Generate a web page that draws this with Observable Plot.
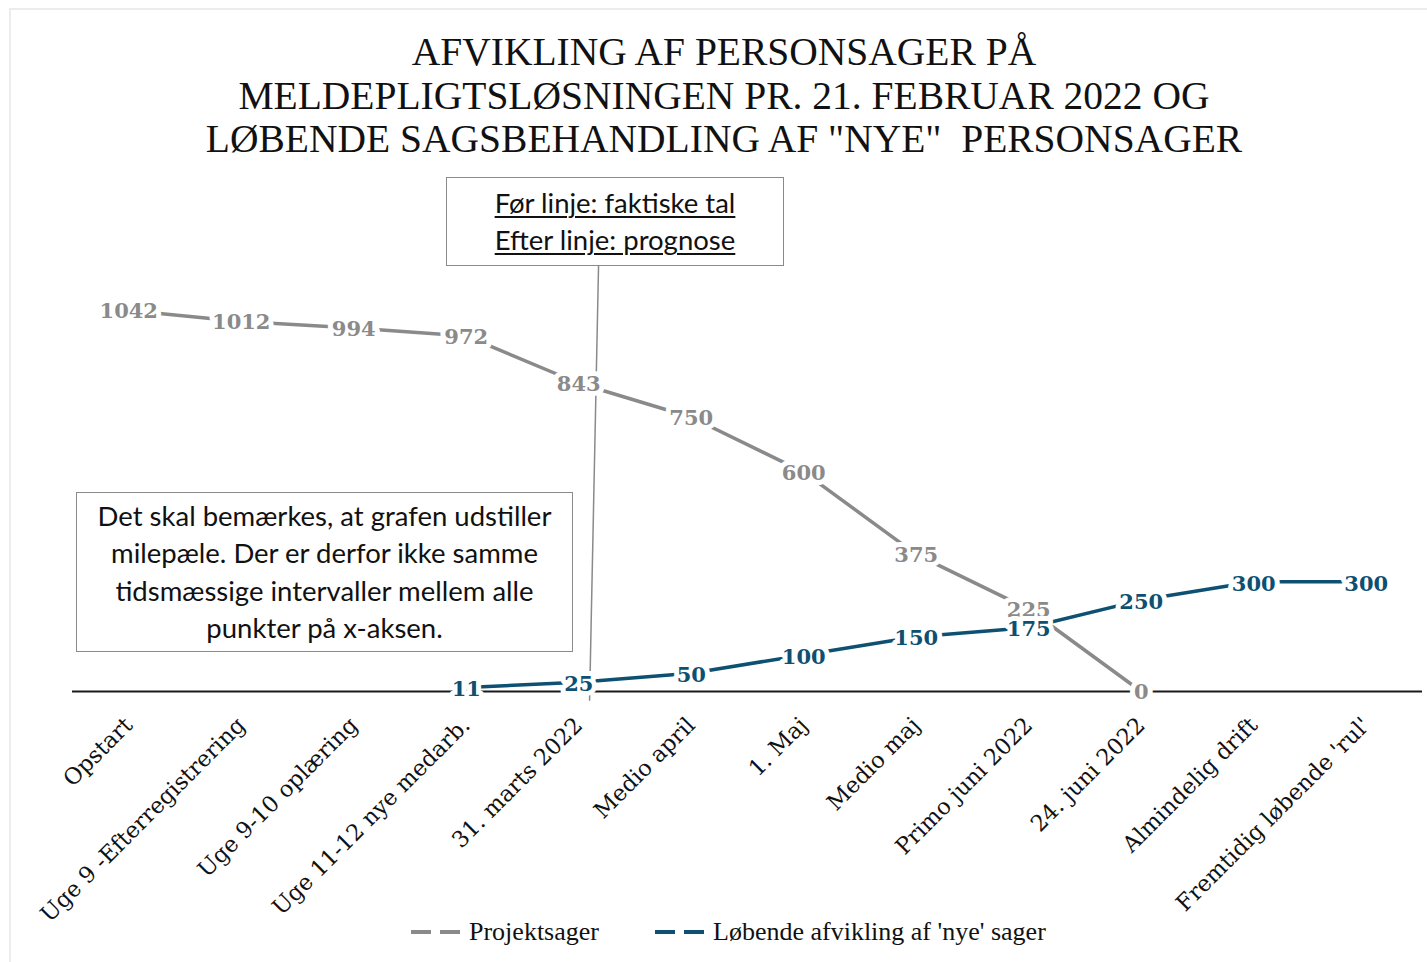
<!DOCTYPE html>
<html>
<head>
<meta charset="utf-8">
<script src="https://cdn.jsdelivr.net/npm/d3@7"></script>
<script src="https://cdn.jsdelivr.net/npm/@observablehq/plot@0.6"></script>
<style>
  html, body { margin: 0; padding: 0; background: #fff; width: 1427px; height: 962px; overflow: hidden; }
  #frame { position: absolute; left: 9px; top: 8px; width: 1440px; height: 980px; border-left: 2px solid #ececec; border-top: 2px solid #ececec; }
  #title { position: absolute; left: 0; top: 31px; width: 1448px; text-align: center; font-family: "Liberation Serif", serif; font-size: 39.5px; line-height: 43.5px; color: #111; }
  #chart { position: absolute; left: 0; top: 160px; }
  .box { position: absolute; border: 1.5px solid #8a8a8a; background: #fff; font-family: Lato, "Open Sans", sans-serif; color: #111; text-align: center; box-sizing: border-box; }
  #box1 { left: 446px; top: 177px; width: 338px; height: 89px; font-size: 27.5px; line-height: 37px; padding-top: 6px; }
  #box1 span { text-decoration: underline; text-underline-offset: 3px; text-decoration-thickness: 1.5px; }
  #box2 { left: 76px; top: 492px; width: 497px; height: 160px; font-size: 27.5px; line-height: 37.3px; padding-top: 4px; }
  #legend { position: absolute; top: 915px; left: 0; width: 1427px; height: 34px; font-family: "Liberation Serif", serif; font-size: 26px; color: #111; }
  .lg { position: absolute; top: 0; display: flex; align-items: center; height: 34px; white-space: nowrap; }
  .sw { display: inline-block; width: 54px; height: 4px; margin-right: 4px; }
</style>
</head>
<body>
<div id="frame"></div>
<div id="title">AFVIKLING AF PERSONSAGER PÅ<br>MELDEPLIGTSLØSNINGEN PR. 21. FEBRUAR 2022 OG<br>LØBENDE SAGSBEHANDLING AF "NYE"&nbsp; PERSONSAGER</div>
<div id="chart"></div>
<div class="box" id="box1"><span>Før linje: faktiske tal</span><br><span>Efter linje: prognose</span></div>
<div class="box" id="box2">Det skal bemærkes, at grafen udstiller<br>milepæle. Der er derfor ikke samme<br>tidsmæssige intervaller mellem alle<br>punkter på x-aksen.</div>
<div id="legend"></div>
<script>
// ---- data ----
const categories = [
  "Opstart",
  "Uge 9 -Efterregistrering",
  "Uge 9-10 oplæring",
  "Uge 11-12 nye medarb.",
  "31. marts 2022",
  "Medio april",
  "1. Maj",
  "Medio maj",
  "Primo juni 2022",
  "24. juni 2022",
  "Almindelig drift",
  "Fremtidig løbende 'rul'"
];
const projektsager = [1042, 1012, 994, 972, 843, 750, 600, 375, 225, 0, null, null];
const loebende = [null, null, null, 11, 25, 50, 100, 150, 175, 250, 300, 300];
const seriesNames = ["Projektsager", "Løbende afvikling af 'nye' sager"];
const seriesColors = ["#8a8a8a", "#0d5071"];
// annotation: divider line between actual and forecast (data coordinates)
const divider = [{x1: 4.176, y1: 1165, x2: 4.096, y2: -25}];

const rows = [];
categories.forEach((c, i) => {
  if (projektsager[i] != null) rows.push({i, value: projektsager[i], series: seriesNames[0]});
  if (loebende[i] != null) rows.push({i, value: loebende[i], series: seriesNames[1]});
});
const rowsA = rows.filter(d => d.series === seriesNames[0]);
const rowsB = rows.filter(d => d.series === seriesNames[1]);

const serif = "DejaVu Serif, serif";

const plot = Plot.plot({
  width: 1427,
  height: 740,
  marginLeft: 72,
  marginRight: 5,
  marginTop: 92.2,
  marginBottom: 209,
  style: {background: "transparent", overflow: "visible"},
  x: {domain: [-0.5, 11.5], axis: null},
  y: {domain: [0, 1200], axis: null},
  marks: [
    Plot.ruleY([0], {stroke: "#1a1a1a", strokeWidth: 2}),
    Plot.link(divider, {x1: "x1", y1: "y1", x2: "x2", y2: "y2", stroke: "#8a8a8a", strokeWidth: 1.5}),
    Plot.line(rowsA, {x: "i", y: "value", stroke: seriesColors[0], strokeWidth: 3.5}),
    Plot.line(rowsB, {x: "i", y: "value", stroke: seriesColors[1], strokeWidth: 3.5}),
    Plot.text(rowsA, {x: "i", y: "value", dy: 1, text: d => String(d.value), fill: seriesColors[0], stroke: "white", strokeWidth: 10, fontWeight: "bold", fontSize: 21, fontFamily: serif}),
    Plot.text(rowsB, {x: "i", y: "value", dy: 2, text: d => String(d.value), fill: seriesColors[1], stroke: "white", strokeWidth: 10, fontWeight: "bold", fontSize: 21, fontFamily: serif}),
    Plot.axisX({
      ticks: d3.range(categories.length),
      tickFormat: i => categories[i],
      tickSize: 0,
      tickPadding: 30,
      tickRotate: -45,
      fontSize: 22.5,
      fontFamily: serif,
      fill: "#111",
      label: null
    })
  ]
});
document.getElementById("chart").appendChild(plot);

// legend
const legend = document.getElementById("legend");
const lefts = [411, 655];
seriesNames.forEach((name, k) => {
  const item = document.createElement("div");
  item.className = "lg";
  item.style.left = lefts[k] + "px";
  const sw = document.createElement("span");
  sw.className = "sw";
  sw.style.background = `repeating-linear-gradient(to right, ${seriesColors[k]} 0 20px, transparent 20px 29px)`;
  item.appendChild(sw);
  item.appendChild(document.createTextNode(name));
  legend.appendChild(item);
});
</script>
</body>
</html>
